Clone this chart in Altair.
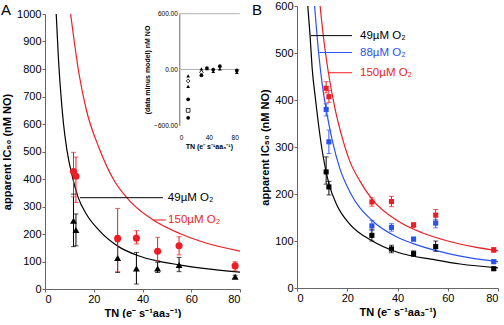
import altair as alt
import pandas as pd

RED = "#ee1c24"
BLUE = "#2a52f0"
FONT = "Liberation Sans"

# ---------------- Panel A : measured apparent IC50 ----------------
tn_a = [11.7, 12.7, 29.8, 37.5, 46.2, 55.0, 78.0]
ic49_a = [248, 215, 113, 75, 75, 87, 45]
lo49_a = [154, 157, 60, 18, 60, 63, 40]
hi49_a = [345, 273, 172, 133, 97, 115, 50]
ic150_a = [427, 410, 184, 185, 137, 157, 84]
lo150_a = [335, 315, 63, 164, 103, 124, 66]
hi150_a = [497, 480, 293, 212, 188, 190, 99]

# Panel A model curves
fit49_a_tn = [4.6, 5.5, 6.5, 7.6, 9, 11.2, 13.6, 17, 22, 30, 38, 46, 55, 65, 80]
fit49_a = [1000, 840, 710, 600, 505, 410, 333, 272, 215, 155, 122, 102, 88, 75, 61]
fit150_a_tn = [10.5, 12, 14, 17, 22.3, 28, 35, 44.4, 55, 65, 80]
fit150_a = [1000, 900, 780, 650, 510, 400, 318, 251, 203, 170, 138]

# Panel A labels
lab_a_text = ["49µM O₂", "150µM O₂"]
lab_a_x1 = [14.3, 44.4]
lab_a_x2 = [48.4, 49.6]
lab_a_y = [332, 251]
lab_a_tx = [50.4, 50.5]

# Inset : residuals (data minus model)
res_tn = [12, 12, 12, 12, 12, 12, 30, 30, 30, 37.5, 37.5, 46, 46, 55, 55, 78, 78]
res_val = [-69, -123, -182, -320, -440, -520, 7, -30, -62, 15, 10, 0, -20, 36, 7, -10, -30]
res_shape = ["triangle-up", "diamond", "triangle-up", "circle", "square", "circle",
             "triangle-up", "diamond", "circle", "circle", "triangle-up", "circle",
             "triangle-up", "circle", "triangle-up", "circle", "triangle-up"]
res_open = [False, True, False, False, True, False, False, True, False, False,
            False, False, False, False, False, False, False]
res_ref = [0, 600]

# ---------------- Panel B ----------------
tn_b = [11.6, 12.7, 29.8, 37.6, 46.4, 55.2, 78.3]
ic49_b = [247, 215, 112, 83, 73, 88, 41]
lo49_b = [221, 198, 100, 75, 67, 78, 38]
hi49_b = [279, 227, 124, 91, 79, 100, 44]
ic88_b = [380, 311, 132, 129, 104, 138, 56]
lo88_b = [366, 286, 122, 121, 100, 128, 52]
hi88_b = [392, 336, 144, 137, 108, 146, 60]
ic150_b = [425, 407, 183, 184, 134, 155, 81]
lo150_b = [415, 395, 174, 173, 129, 142, 76]
hi150_b = [439, 420, 192, 195, 139, 167, 86]

fit49_b_tn = [4.3, 5.2, 6, 7.4, 9.8, 12.7, 16, 21, 30, 40, 55, 65, 80]
fit49_b = [600, 537, 470, 400, 300, 222, 175, 136, 100, 76, 60, 51, 43]
fit88_b_tn = [7, 8.6, 10, 11.6, 14, 17, 21, 30, 40, 46, 55, 65, 80]
fit88_b = [600, 501, 435, 380, 315, 255, 205, 143, 108, 95, 80, 68, 56]
fit150_b_tn = [9.2, 10.5, 12.5, 15, 18, 21, 25, 30, 40, 50, 60, 70, 80]
fit150_b = [600, 535, 458, 385, 320, 270, 228, 188, 143, 117, 100, 88, 79]

lab_b_text = ["49µM O₂", "88µM O₂", "150µM O₂"]
lab_b_x1 = [5.5, 8.9, 12.5]
lab_b_x2 = [21.9, 21.9, 21.9]
lab_b_y = [537, 501, 458]
lab_b_tx = [25.1, 25.1, 25.1]

XTITLE = "TN (e⁻ s⁻¹aa₃⁻¹)"
YTITLE = "apparent IC₅₀ (nM NO)"

SERIES = ["49", "88", "150"]
col_scale = alt.Scale(domain=SERIES, range=["#000000", BLUE, RED])
colS = alt.Color("series:N", scale=col_scale, legend=None)


def frame(series, tn, ic, lo, hi):
    return pd.DataFrame({"series": series, "tn": tn, "ic": ic, "lo": lo, "hi": hi})


def curve(series, tn, ic):
    return pd.DataFrame({"series": series, "tn": tn, "ic": ic})


# ================= Panel A =================
pts_a = pd.concat([frame("49", tn_a, ic49_a, lo49_a, hi49_a),
                   frame("150", tn_a, ic150_a, lo150_a, hi150_a)])
fits_a = pd.concat([curve("49", fit49_a_tn, fit49_a), curve("150", fit150_a_tn, fit150_a)])
labs_a = pd.DataFrame({"label": lab_a_text, "x1": lab_a_x1, "x2": lab_a_x2,
                       "y": lab_a_y, "tx": lab_a_tx, "series": ["49", "150"]})

sx_a = alt.Scale(domain=[0, 80])
sy_a = alt.Scale(domain=[0, 1000], range=[283, 8])
ax_xa = alt.Axis(values=[0, 20, 40, 60, 80], title=XTITLE, grid=False)
ax_ya = alt.Axis(values=list(range(0, 1001, 100)), format="d", title=YTITLE, grid=False, titlePadding=4)


def XA(f):
    return alt.X(f"{f}:Q", scale=sx_a, axis=ax_xa)


def YA(f):
    return alt.Y(f"{f}:Q", scale=sy_a, axis=ax_ya)


a_fit = alt.Chart(fits_a).mark_line(interpolate="monotone", strokeWidth=1.2, clip=True).encode(
    x=XA("tn"), y=YA("ic"), color=colS, detail="series:N")
a_bar = alt.Chart(pts_a).mark_rule(strokeWidth=1).encode(
    x=XA("tn"), y=YA("lo"), y2="hi:Q", color=colS)
a_cap = alt.Chart(pts_a).transform_fold(["lo", "hi"], as_=["k", "v"]).mark_tick(
    orient="horizontal", size=5, thickness=1).encode(x=XA("tn"), y=YA("v"), color=colS)
a_pts = alt.Chart(pts_a).mark_point(filled=True, opacity=1).encode(
    x=XA("tn"), y=YA("ic"), color=colS,
    shape=alt.Shape("series:N", scale=alt.Scale(domain=["49", "150"], range=["triangle-up", "circle"]), legend=None),
    size=alt.Size("series:N", scale=alt.Scale(domain=["49", "150"], range=[48, 50]), legend=None))
a_lline = alt.Chart(labs_a).mark_rule(strokeWidth=1).encode(
    x=XA("x1"), x2="x2:Q", y=YA("y"), color=colS)
a_ltext = alt.Chart(labs_a).mark_text(align="left", baseline="middle", fontSize=11.5, font=FONT).encode(
    x=XA("tx"), y=YA("y"), text="label:N", color=colS)
a_letter = alt.Chart(pd.DataFrame({"t": ["A"]})).mark_text(
    align="left", baseline="alphabetic", fontSize=15, font=FONT).encode(
    x=alt.value(-44), y=alt.value(9), text="t:N")

main_a = alt.layer(a_fit, a_bar, a_cap, a_pts, a_lline, a_ltext, a_letter)

# ---- inset ----
res_df = pd.DataFrame({"tn": res_tn, "res": res_val, "shape": res_shape, "open": res_open})
ref_df = pd.DataFrame({"res": res_ref})
sx_i = alt.Scale(domain=[0, 80], range=[134.3, 193.3])
sy_i = alt.Scale(domain=[-600, 600], range=[119.3, 7.7])
ax_xi = alt.Axis(orient="bottom", offset=-163.7, values=[0, 40, 80], domain=False, ticks=False,
                 grid=False, labelFontSize=6.5, labelPadding=9, title=XTITLE, titleFontSize=7,
                 titlePadding=2)
ax_yi = alt.Axis(orient="left", offset=-134.3, values=[-600, 0, 600], format=".2f", grid=False,
                 ticks=False, labelFontSize=6.5, labelPadding=2, title="(data minus model) nM NO",
                 titleFontSize=7, titlePadding=3)


def XI(f):
    return alt.X(f"{f}:Q", scale=sx_i, axis=ax_xi)


def YI(f):
    return alt.Y(f"{f}:Q", scale=sy_i, axis=ax_yi)


i_ref = alt.Chart(ref_df).mark_rule(color="#b0b0b0", strokeWidth=1).encode(
    x=alt.X(datum=0, scale=sx_i, axis=ax_xi), x2=alt.X2(datum=82), y=YI("res"))
i_fill = alt.Chart(res_df).transform_filter("!datum.open").mark_point(
    filled=True, color="black", size=14, opacity=1).encode(
    x=XI("tn"), y=YI("res"), shape=alt.Shape("shape:N", scale=None))
i_open = alt.Chart(res_df).transform_filter("datum.open").mark_point(
    filled=False, color="black", size=14, strokeWidth=0.8, opacity=1).encode(
    x=XI("tn"), y=YI("res"), shape=alt.Shape("shape:N", scale=None))
inset = alt.layer(i_ref, i_fill, i_open)

panel_a = alt.layer(main_a, inset).resolve_scale(x="independent", y="independent").properties(
    width=195, height=283)

# ================= Panel B =================
pts_b = pd.concat([frame("49", tn_b, ic49_b, lo49_b, hi49_b),
                   frame("88", tn_b, ic88_b, lo88_b, hi88_b),
                   frame("150", tn_b, ic150_b, lo150_b, hi150_b)])
fits_b = pd.concat([curve("49", fit49_b_tn, fit49_b), curve("88", fit88_b_tn, fit88_b),
                    curve("150", fit150_b_tn, fit150_b)])
labs_b = pd.DataFrame({"label": lab_b_text, "x1": lab_b_x1, "x2": lab_b_x2,
                       "y": lab_b_y, "tx": lab_b_tx, "series": ["49", "88", "150"]})

sx_b = alt.Scale(domain=[0, 80])
sy_b = alt.Scale(domain=[0, 600])
ax_xb = alt.Axis(values=[0, 20, 40, 60, 80], title=XTITLE, grid=False)
ax_yb = alt.Axis(values=list(range(0, 601, 100)), format="d", title=YTITLE, grid=False, titlePadding=4)


def XB(f):
    return alt.X(f"{f}:Q", scale=sx_b, axis=ax_xb)


def YB(f):
    return alt.Y(f"{f}:Q", scale=sy_b, axis=ax_yb)


b_fit = alt.Chart(fits_b).mark_line(interpolate="monotone", strokeWidth=1.2, clip=True).encode(
    x=XB("tn"), y=YB("ic"), color=colS, detail="series:N")
b_bar = alt.Chart(pts_b).mark_rule(strokeWidth=1).encode(
    x=XB("tn"), y=YB("lo"), y2="hi:Q", color=colS)
b_cap = alt.Chart(pts_b).transform_fold(["lo", "hi"], as_=["k", "v"]).mark_tick(
    orient="horizontal", size=5, thickness=1).encode(x=XB("tn"), y=YB("v"), color=colS)
b_pts = alt.Chart(pts_b).mark_point(filled=True, shape="square", size=26, opacity=1).encode(
    x=XB("tn"), y=YB("ic"), color=colS)
b_lline = alt.Chart(labs_b).mark_rule(strokeWidth=1).encode(
    x=XB("x1"), x2="x2:Q", y=YB("y"), color=colS)
b_ltext = alt.Chart(labs_b).mark_text(align="left", baseline="middle", fontSize=11.5, font=FONT).encode(
    x=XB("tx"), y=YB("y"), text="label:N", color=colS)
b_letter = alt.Chart(pd.DataFrame({"t": ["B"]})).mark_text(
    align="left", baseline="alphabetic", fontSize=15, font=FONT).encode(
    x=alt.value(-45), y=alt.value(9), text="t:N")

panel_b = alt.layer(b_fit, b_bar, b_cap, b_pts, b_lline, b_ltext, b_letter).properties(
    width=201, height=282)

chart = alt.hconcat(panel_a, panel_b, spacing=57, bounds="flush").properties(
    padding={"left": 1, "top": 0, "right": 0, "bottom": 0}
).configure_view(stroke=None).configure_axis(
    labelFont=FONT, titleFont=FONT, labelFontSize=11, titleFontSize=11, titleFontWeight="bold",
    labelColor="black", titleColor="black", domainColor="#666", tickColor="#666",
    tickSize=3, labelPadding=1, titlePadding=3
)

chart.save("out.html", embed_options={"renderer": "svg", "actions": False})
